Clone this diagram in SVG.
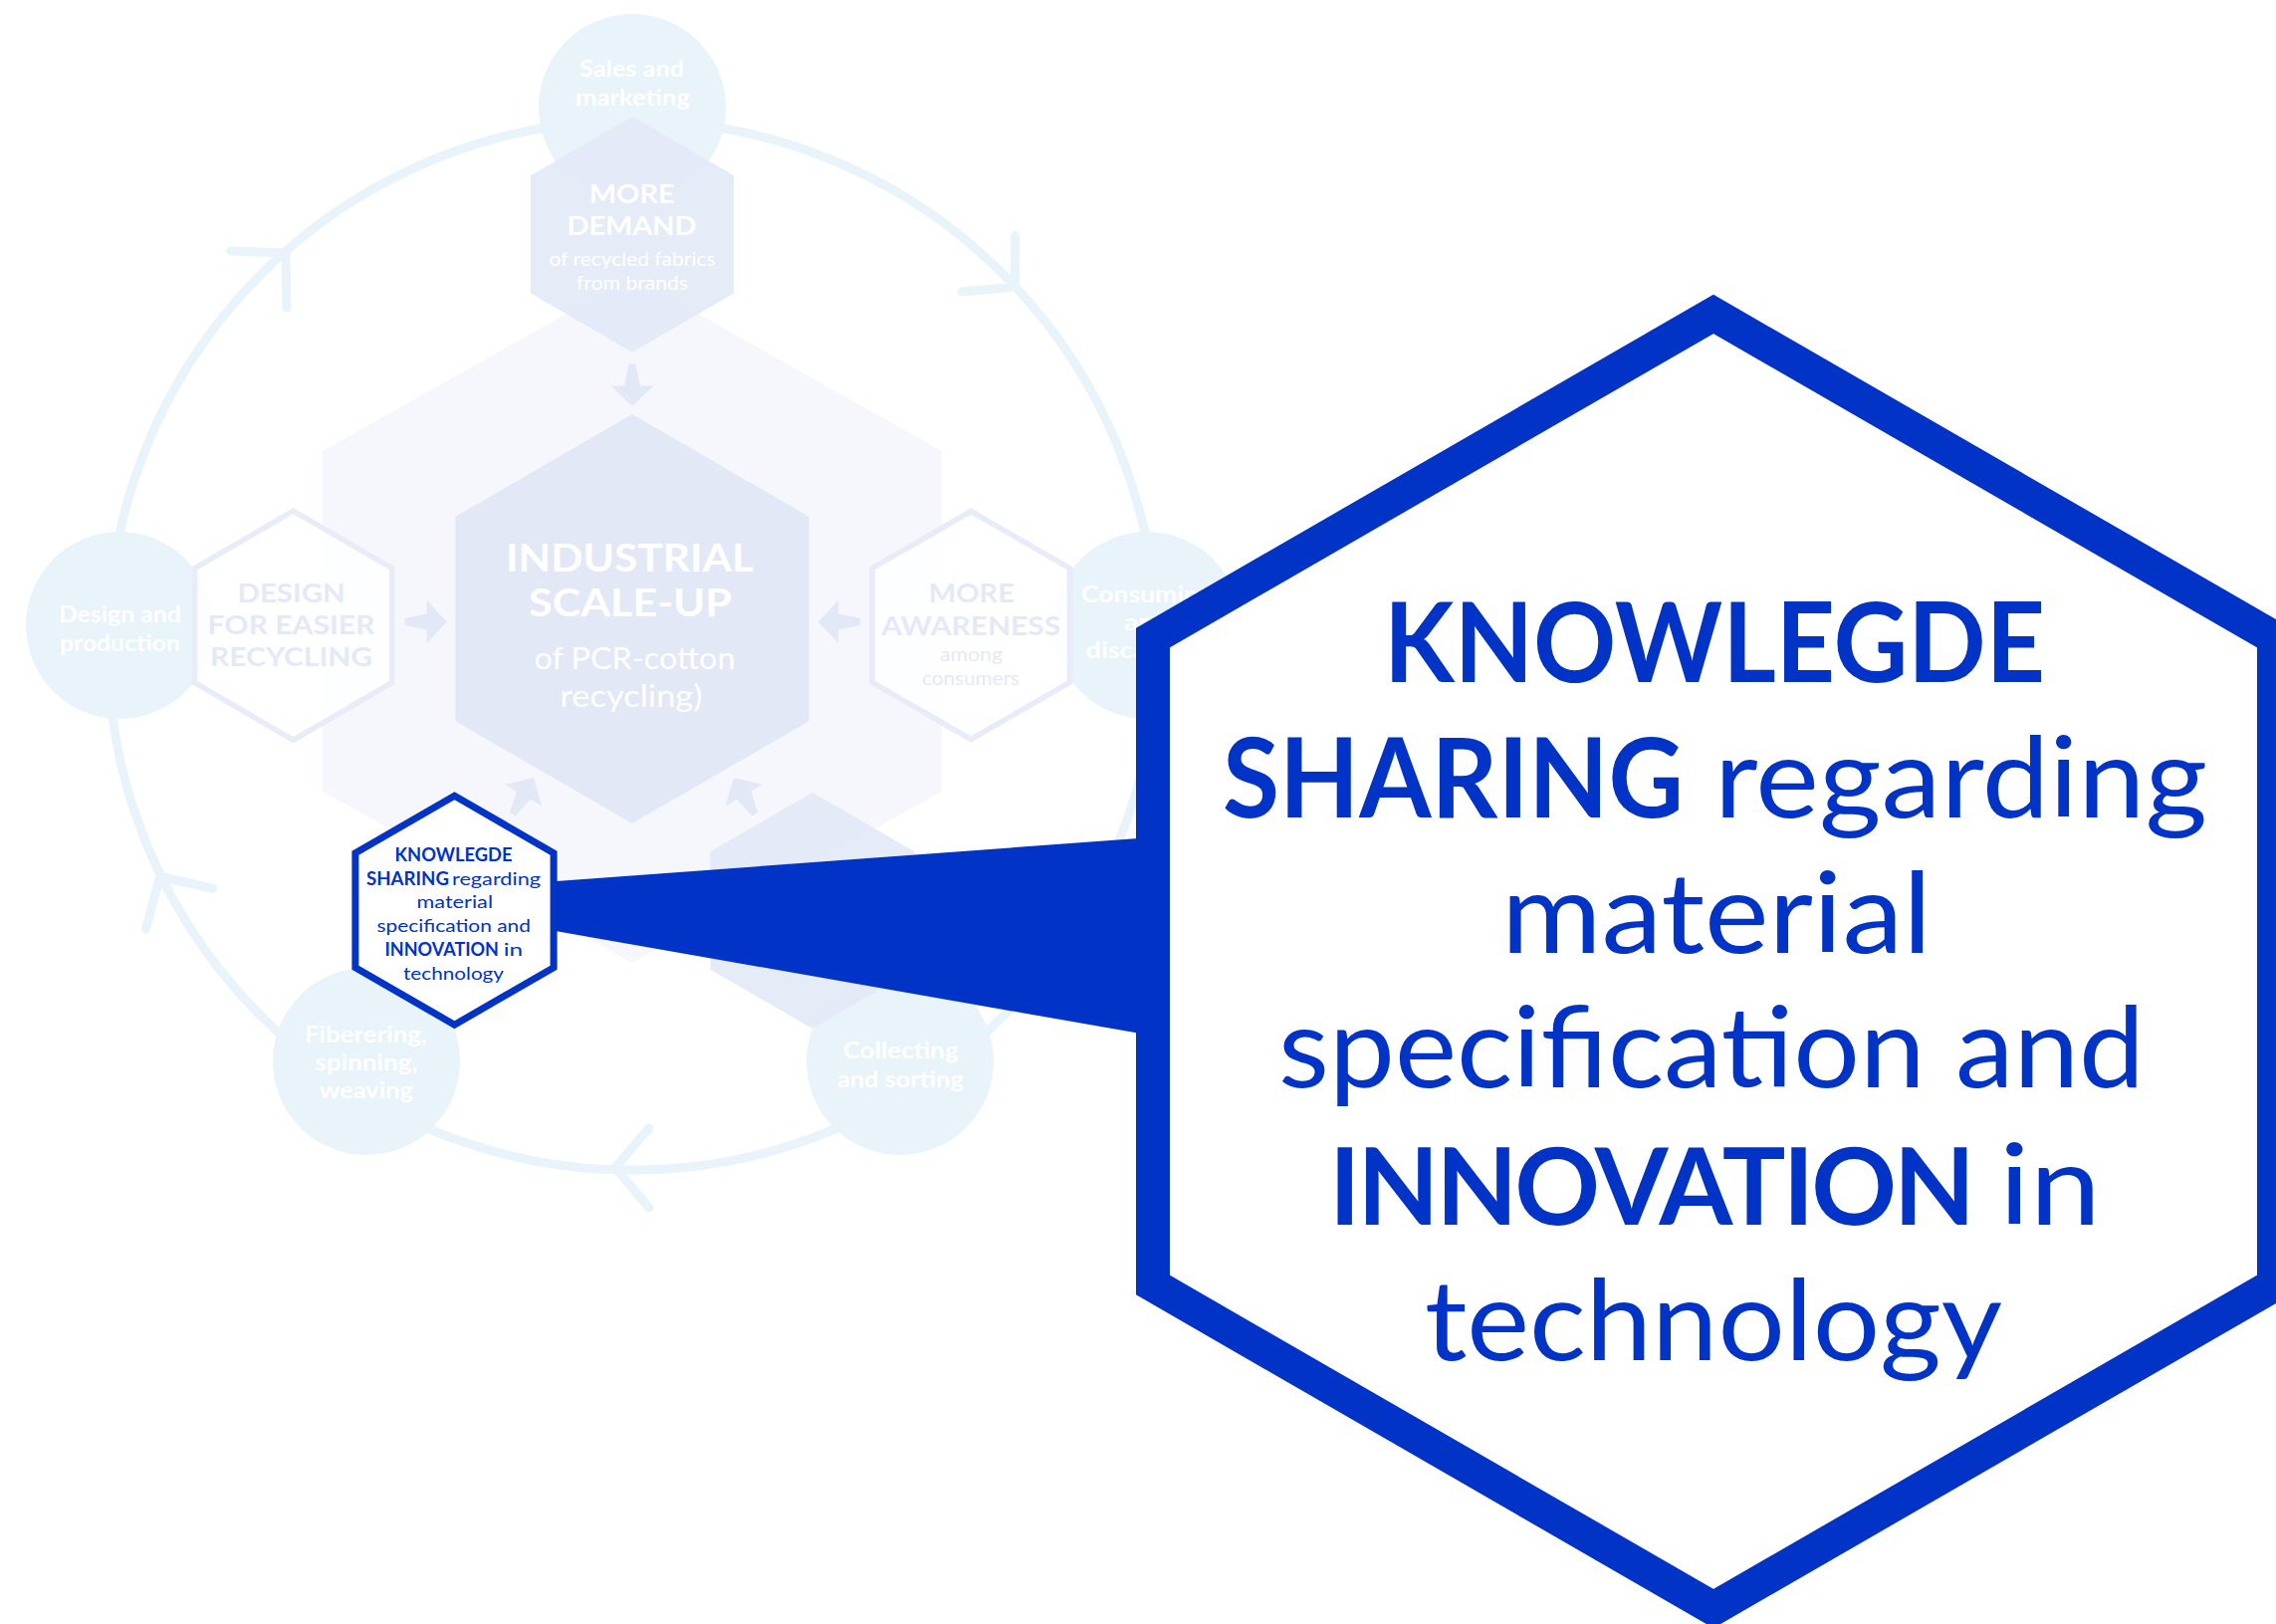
<svg xmlns="http://www.w3.org/2000/svg" width="2286" height="1631" viewBox="0 0 2286 1631">
<defs>
<style>
text{font-family:Lato,'Open Sans','Noto Sans','Liberation Sans',sans-serif}
.ring{fill:none;stroke:#E8F4FA;stroke-width:9;stroke-linecap:round;stroke-linejoin:round}
.proc{fill:#E8F4FA}
.pt{fill:#FFFFFF;font-weight:700;font-size:23.5px;text-anchor:middle}
.bghex{fill:#F5F7FC}
.core{fill:#E3E8F6}
.lever{fill:#E3E8F7;fill-opacity:0.88}
.ohex{fill:#FFFFFF;fill-opacity:0.82;stroke:#E8ECF8;stroke-width:5.5}
.arr{fill:#E3E8F6}
.wt{fill:#FFFFFF;text-anchor:middle}
.lt{fill:#E4E9F7;text-anchor:middle}
.b{font-weight:700}
.blue{fill:#0033C6}
.bt{fill:#0033C6}
.bhex{fill:#FFFFFF;stroke:#0033C6}
</style>
<path id="arrow" d="M-42.4,-3.5 L-20.4,-8 L-20.4,-21.5 L0,0 L-20.4,21.5 L-20.4,8 L-42.4,3.5 Z"/>
</defs>
<rect width="2286" height="1631" fill="#FFFFFF"/>

<g id="node-scaleup-frame">
<polygon class="bghex" points="635,278 946,453 946,795 635,967 324,795 324,453"/>
</g>

<g id="connectors">
<circle class="ring" cx="635" cy="648" r="527"/>
<polyline class="ring" points="232,252 287,254 288,309"/>
<polyline class="ring" points="1019.6,236.6 1019.6,288 966,293"/>
<polyline class="ring" points="651.8,1133 618,1172.7 651.8,1213"/>
<polyline class="ring" points="214,892.5 160.7,880 146.4,933.6"/>
<use href="#arrow" class="arr" transform="translate(635,408) rotate(90)"/>
<use href="#arrow" class="arr" transform="translate(449,624.6)"/>
<use href="#arrow" class="arr" transform="translate(821.7,624.6) rotate(180)"/>
<use href="#arrow" class="arr" transform="translate(536,781) rotate(-60)"/>
<use href="#arrow" class="arr" transform="translate(737,781) rotate(-120)"/>
</g>

<g id="node-sales">
<circle class="proc" cx="635" cy="108" r="94"/>
<text class="pt" x="634.5" y="77" textLength="105" lengthAdjust="spacingAndGlyphs">Sales and</text>
<text class="pt" x="635.5" y="106" textLength="115" lengthAdjust="spacingAndGlyphs">marketing</text>
</g>
<g id="node-consuming">
<circle class="proc" cx="1152" cy="628" r="94"/>
<text class="pt" x="1152" y="605" textLength="132" lengthAdjust="spacingAndGlyphs">Consuming</text>
<text class="pt" x="1152" y="633" textLength="46" lengthAdjust="spacingAndGlyphs">and</text>
<text class="pt" x="1152" y="661" textLength="123" lengthAdjust="spacingAndGlyphs">discarding</text>
</g>
<g id="node-collecting">
<circle class="proc" cx="904" cy="1066" r="94"/>
<text class="pt" x="904.7" y="1063" textLength="116" lengthAdjust="spacingAndGlyphs">Collecting</text>
<text class="pt" x="904.4" y="1091.7" textLength="127" lengthAdjust="spacingAndGlyphs">and sorting</text>
</g>
<g id="node-fibering">
<circle class="proc" cx="368" cy="1066" r="94"/>
<text class="pt" x="367.5" y="1046.7" textLength="123" lengthAdjust="spacingAndGlyphs">Fiberering,</text>
<text class="pt" x="368" y="1075" textLength="103" lengthAdjust="spacingAndGlyphs">spinning,</text>
<text class="pt" x="368" y="1102.7" textLength="94" lengthAdjust="spacingAndGlyphs">weaving</text>
</g>
<g id="node-design-production">
<circle class="proc" cx="120" cy="628" r="94"/>
<text class="pt" x="120.4" y="624.6" textLength="123" lengthAdjust="spacingAndGlyphs">Design and</text>
<text class="pt" x="120.5" y="654" textLength="121" lengthAdjust="spacingAndGlyphs">production</text>
</g>

<g id="node-industrial">
<polygon class="core" points="635,416 812.5,518.8 812.5,724.3 635,827 457.5,724.3 457.5,518.8"/>
<text class="wt b" x="632.5" y="573.6" font-size="38" textLength="249" lengthAdjust="spacingAndGlyphs">INDUSTRIAL</text>
<text class="wt b" x="633" y="618.6" font-size="38" textLength="204" lengthAdjust="spacingAndGlyphs">SCALE-UP</text>
<text class="wt" x="637.5" y="672" font-size="30" textLength="202" lengthAdjust="spacingAndGlyphs">of PCR-cotton</text>
<text class="wt" x="634" y="710" font-size="30" textLength="143" lengthAdjust="spacingAndGlyphs">recycling)</text>
</g>
<g id="node-more-demand">
<polygon class="lever" points="635,117.1 737,176.3 737,294.6 635,353.7 533,294.6 533,176.3"/>
<text class="wt b" x="634.7" y="203.6" font-size="27.5" textLength="86" lengthAdjust="spacingAndGlyphs">MORE</text>
<text class="wt b" x="634.5" y="236.4" font-size="27.5" textLength="130" lengthAdjust="spacingAndGlyphs">DEMAND</text>
<text class="wt" x="635" y="267" font-size="18.5" textLength="167" lengthAdjust="spacingAndGlyphs">of recycled fabrics</text>
<text class="wt" x="635" y="291" font-size="18.5" textLength="112" lengthAdjust="spacingAndGlyphs">from brands</text>
</g>
<g id="node-design-recycling">
<polygon class="ohex" points="294.6,513.2 393.6,570.7 393.6,685.7 294.6,743.2 195.6,685.7 195.6,570.7"/>
<text class="lt b" x="292.6" y="605" font-size="26.5" textLength="108" lengthAdjust="spacingAndGlyphs">DESIGN</text>
<text class="lt b" x="292.5" y="637" font-size="26.5" textLength="168" lengthAdjust="spacingAndGlyphs">FOR EASIER</text>
<text class="lt b" x="292.6" y="668.6" font-size="26.5" textLength="163" lengthAdjust="spacingAndGlyphs">RECYCLING</text>
</g>
<g id="node-more-awareness">
<polygon class="ohex" points="975.2,513.5 1074.4,570.7 1074.4,685.3 975.2,742.5 876,685.3 876,570.7"/>
<text class="lt b" x="975.8" y="605.4" font-size="26.5" textLength="86" lengthAdjust="spacingAndGlyphs">MORE</text>
<text class="lt b" x="975.2" y="637.5" font-size="26.5" textLength="180" lengthAdjust="spacingAndGlyphs">AWARENESS</text>
<text class="lt" x="975.5" y="664" font-size="19" textLength="63" lengthAdjust="spacingAndGlyphs">among</text>
<text class="lt" x="975" y="688" font-size="19" textLength="98" lengthAdjust="spacingAndGlyphs">consumers</text>
</g>
<g id="node-lever-lower">
<polygon class="lever" points="816,796 918.6,855.2 918.6,973.7 816,1033 713.4,973.7 713.4,855.2"/>
</g>

<g id="connector-callout">
<polygon class="blue" points="552,885.5 1160,840.7 1160,1040.6 552,934"/>
</g>

<g id="node-knowledge-small">
<polygon class="bhex" stroke-width="7" points="456.5,799.2 556.1,856.7 556.1,971.7 456.5,1029.2 356.9,971.7 356.9,856.7"/>
<text class="bt b" x="396.5" y="865" font-size="18" textLength="118" lengthAdjust="spacingAndGlyphs">KNOWLEGDE</text>
<text class="bt" y="888.7" font-size="18"><tspan class="b" x="368" textLength="83" lengthAdjust="spacingAndGlyphs">SHARING</tspan><tspan x="454" textLength="89" lengthAdjust="spacingAndGlyphs">regarding</tspan></text>
<text class="bt" x="418.5" y="912.4" font-size="18" textLength="76.5" lengthAdjust="spacingAndGlyphs">material</text>
<text class="bt" x="378.5" y="936.1" font-size="18" textLength="154.5" lengthAdjust="spacingAndGlyphs">specification and</text>
<text class="bt" y="959.8" font-size="18"><tspan class="b" x="386.5" textLength="114.5" lengthAdjust="spacingAndGlyphs">INNOVATION</tspan><tspan x="505.7" textLength="19.5" lengthAdjust="spacingAndGlyphs">in</tspan></text>
<text class="bt" x="405" y="983.5" font-size="18" textLength="101" lengthAdjust="spacingAndGlyphs">technology</text>
</g>

<g id="node-knowledge-large">
<polygon class="bhex" stroke-width="34" points="1721,315.5 2284,640.5 2284,1290.5 1721,1615.5 1158,1290.5 1158,640.5"/>
<text class="bt b" x="1390" y="685" font-size="112" textLength="664" lengthAdjust="spacingAndGlyphs">KNOWLEGDE</text>
<text class="bt" y="821" font-size="112"><tspan class="b" x="1228" textLength="463" lengthAdjust="spacingAndGlyphs">SHARING</tspan><tspan x="1722" textLength="495" lengthAdjust="spacingAndGlyphs">regarding</tspan></text>
<text class="bt" x="1508" y="957" font-size="112" textLength="432" lengthAdjust="spacingAndGlyphs">material</text>
<text class="bt" x="1284" y="1092" font-size="112" textLength="870" lengthAdjust="spacingAndGlyphs">specification and</text>
<text class="bt" y="1230" font-size="112"><tspan class="b" x="1335" font-size="108" letter-spacing="-3" textLength="646" lengthAdjust="spacingAndGlyphs">INNOVATION</tspan><tspan x="2008" textLength="102" lengthAdjust="spacingAndGlyphs">in</tspan></text>
<text class="bt" x="1431" y="1366" font-size="112" textLength="580" lengthAdjust="spacingAndGlyphs">technology</text>
</g>
</svg>
